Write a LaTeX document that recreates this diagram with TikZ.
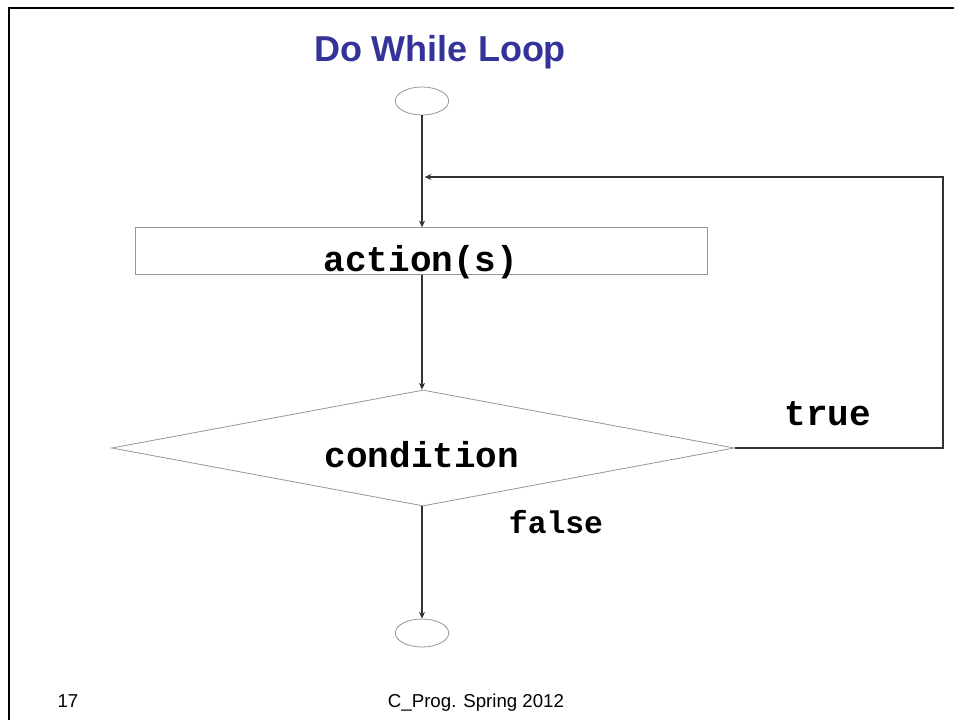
\documentclass[tikz,border=0pt]{standalone}
\usepackage{fontspec}
\setmainfont{Liberation Sans}
\newfontfamily\codefont{Liberation Mono}
\usetikzlibrary{shapes.geometric,arrows.meta}
\definecolor{titleblue}{RGB}{51,51,153}
\definecolor{shapegray}{RGB}{150,150,150}
\definecolor{linegray}{RGB}{50,50,50}
\tikzset{
  terminal/.style={ellipse,draw=shapegray,line width=0.6pt,minimum width=40pt,minimum height=21pt,inner sep=0pt},
  actionbox/.style={rectangle,draw=shapegray,line width=0.6pt,minimum width=429pt,minimum height=35pt,inner sep=0pt},
  decision/.style={diamond,draw=shapegray,line width=0.6pt,minimum width=467pt,minimum height=87pt,inner sep=0pt},
  codetext/.style={font=\codefont\bfseries\fontsize{27}{30}\selectfont},
  flow/.style={draw=linegray,line width=0.8pt,-{Stealth[length=5pt,width=4.5pt]}},
  footertext/.style={font=\fontsize{14}{16}\selectfont,anchor=base}
}
\begin{document}
\begin{tikzpicture}[x=0.75pt,y=-0.75pt]
  \useasboundingbox (0,0) rectangle (954,720);
  % slide frame (left and top edges)
  \draw[line width=2.2pt] (9,720) -- (9,8) -- (954,8);
  % title
  \node[font=\bfseries\fontsize{27}{30}\selectfont,text=titleblue,anchor=base] (title) at (440,62) {Do While Loop};
  % flowchart shapes
  \node[terminal] (start) at (422,101) {};
  \node[actionbox] (act) at (421,251) {};
  \node[codetext] (acttext) at (421,262) {action(s)};
  \node[decision] (cond) at (423,448) {};
  \node[codetext] (condtext) at (422,455) {condition};
  \node[terminal] (stop) at (422,633) {};
  % branch labels
  \node[codetext,anchor=base] (truelbl) at (828,426) {true};
  \node[codetext,font=\codefont\bfseries\fontsize{23.5}{26}\selectfont,anchor=base] (falselbl) at (556,533) {false};
  % connectors
  \coordinate (merge) at (422,177);
  \coordinate (loopR) at (943,448);
  \coordinate (loopT) at (943,177);
  \draw[flow] (start.south) -- (start.south |- act.north);
  \draw[flow] (act.south -| start.south) -- (start.south |- cond.north);
  \draw[flow] (start.south |- cond.south) -- (stop.north);
  \draw[flow] (cond.east) -- (loopR) -- (loopT) -- ([xshift=2pt]merge);
  % footer
  \node[footertext] (pagenum) at (68,707) {17};
  \node[footertext] (footer) at (476,707) {C\_Prog. Spring 2012};
\end{tikzpicture}
\end{document}
